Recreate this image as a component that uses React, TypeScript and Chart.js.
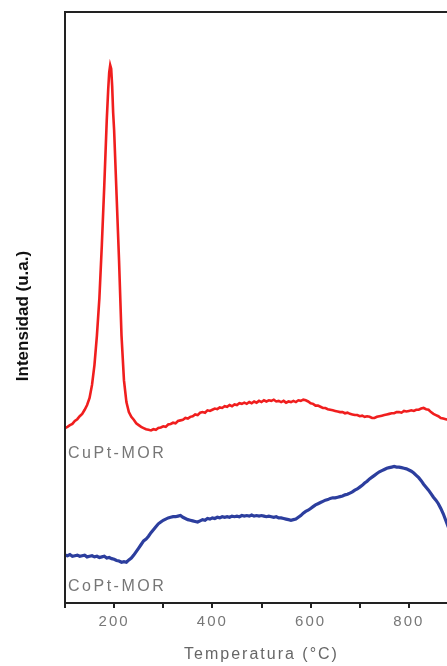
import React, { useEffect, useRef } from 'react';
import { Chart, registerables } from 'chart.js';

Chart.register(...registerables);

// ---- data ----
const seriesNames = ['CuPt-MOR', 'CoPt-MOR'];
const xTickLabels = [200, 400, 600, 800];

const tempCuPt = [
  100, 105, 110, 115, 120, 125, 130, 135, 140, 145, 150, 155, 160, 165, 170, 175, 180, 185, 188, 190,
  192, 194, 196, 198, 200, 205, 210, 215, 220, 225, 230, 235, 240, 245, 250, 255, 260, 265, 270, 275,
  280, 285, 290, 295, 300, 305, 310, 315, 320, 325, 330, 335, 340, 345, 350, 355, 360, 365, 370, 375,
  380, 385, 390, 395, 400, 405, 410, 415, 420, 425, 430, 435, 440, 445, 450, 455, 460, 465, 470, 475,
  480, 485, 490, 495, 500, 505, 510, 515, 520, 525, 530, 535, 540, 545, 550, 555, 560, 565, 570, 575,
  580, 585, 590, 595, 600, 605, 610, 615, 620, 625, 630, 635, 640, 645, 650, 655, 660, 665, 670, 675,
  680, 685, 690, 695, 700, 705, 710, 715, 720, 725, 730, 735, 740, 745, 750, 755, 760, 765, 770, 775,
  780, 785, 790, 795, 800, 805, 810, 815, 820, 825, 830, 835, 840, 845, 850, 855, 860, 865, 870, 875,
  880, 885, 890, 895, 900,
];
const intCuPt = [
  29.6, 29.8, 30.1, 30.3, 30.8, 31.1, 31.6, 32.0, 32.7, 33.5, 34.7, 36.9, 40.3, 45.3, 51.6, 60.6, 70.7, 81.7, 87.0, 89.8,
  91.0, 90.4, 87.5, 83.0, 80.0, 69.0, 58.0, 45.3, 37.7, 34.0, 32.3, 31.5, 31.0, 30.4, 30.1, 29.8, 29.6, 29.4, 29.3, 29.2,
  29.4, 29.3, 29.6, 29.7, 29.9, 29.8, 30.2, 30.3, 30.5, 30.4, 30.8, 30.9, 31.0, 31.3, 31.2, 31.5, 31.6, 31.9, 31.8, 32.2,
  32.3, 32.2, 32.6, 32.5, 32.7, 32.9, 32.8, 33.1, 33.0, 33.3, 33.2, 33.5, 33.3, 33.6, 33.5, 33.8, 33.7, 33.9, 33.7, 34.0,
  33.8, 34.1, 33.9, 34.2, 34.0, 34.3, 34.1, 34.3, 34.2, 34.4, 34.1, 34.2, 34.0, 34.2, 33.9, 34.1, 34.0, 34.2, 34.0, 34.3,
  34.2, 34.4, 34.3, 34.1, 33.8, 33.7, 33.4, 33.4, 33.2, 33.0, 33.0, 32.8, 32.7, 32.6, 32.5, 32.4, 32.3, 32.3, 32.1, 32.2,
  32.0, 31.9, 31.8, 31.8, 31.6, 31.7, 31.5, 31.6, 31.5, 31.3, 31.3, 31.5, 31.6, 31.7, 31.8, 31.9, 32.0, 32.1, 32.1, 32.3,
  32.3, 32.2, 32.5, 32.4, 32.5, 32.6, 32.5, 32.7, 32.7, 32.9, 33.0, 32.8, 32.7, 32.3, 32.0, 31.8, 31.6, 31.3, 31.2, 31.1,
  31.0, 30.8, 30.7, 30.6, 30.5,
];

const tempCoPt = [
  100, 105, 110, 115, 120, 125, 130, 135, 140, 145, 150, 155, 160, 165, 170, 175, 180, 185, 190, 195,
  200, 205, 210, 215, 220, 225, 230, 235, 240, 245, 250, 255, 260, 265, 270, 275, 280, 285, 290, 295,
  300, 305, 310, 315, 320, 325, 330, 335, 340, 345, 350, 355, 360, 365, 370, 375, 380, 385, 390, 395,
  400, 405, 410, 415, 420, 425, 430, 435, 440, 445, 450, 455, 460, 465, 470, 475, 480, 485, 490, 495,
  500, 505, 510, 515, 520, 525, 530, 535, 540, 545, 550, 555, 560, 565, 570, 575, 580, 585, 590, 595,
  600, 605, 610, 615, 620, 625, 630, 635, 640, 645, 650, 655, 660, 665, 670, 675, 680, 685, 690, 695,
  700, 705, 710, 715, 720, 725, 730, 735, 740, 745, 750, 755, 760, 765, 770, 775, 780, 785, 790, 795,
  800, 805, 810, 815, 820, 825, 830, 835, 840, 845, 850, 855, 860, 865, 870, 875, 880, 885, 890, 895,
  900,
];
const intCoPt = [
  8.1, 8.0, 8.2, 7.9, 8.0, 8.1, 7.9, 8.0, 8.1, 7.8, 7.9, 8.0, 7.8, 7.9, 7.7, 7.8, 7.9, 7.6, 7.7, 7.5,
  7.4, 7.2, 7.1, 6.9, 7.0, 6.9, 7.3, 7.6, 8.1, 8.7, 9.3, 9.9, 10.5, 10.8, 11.3, 11.9, 12.4, 12.9, 13.4, 13.7,
  14.0, 14.2, 14.4, 14.5, 14.6, 14.6, 14.7, 14.8, 14.5, 14.3, 14.1, 14.0, 13.9, 13.8, 13.7, 13.9, 14.1, 14.0, 14.3, 14.2,
  14.4, 14.3, 14.5, 14.4, 14.6, 14.5, 14.6, 14.5, 14.7, 14.6, 14.7, 14.6, 14.8, 14.7, 14.8, 14.7, 14.9, 14.7, 14.8, 14.7,
  14.8, 14.7, 14.6, 14.7, 14.6, 14.5, 14.6, 14.4, 14.4, 14.3, 14.2, 14.1, 14.0, 14.1, 14.2, 14.5, 14.8, 15.2, 15.5, 15.7,
  16.0, 16.3, 16.6, 16.8, 17.0, 17.2, 17.4, 17.5, 17.7, 17.8, 17.8, 17.9, 18.0, 18.1, 18.3, 18.4, 18.6, 18.8, 19.1, 19.3,
  19.6, 19.9, 20.3, 20.6, 21.0, 21.3, 21.6, 21.9, 22.2, 22.4, 22.6, 22.8, 22.9, 23.0, 23.1, 23.0, 23.0, 22.9, 22.8, 22.7,
  22.5, 22.3, 22.0, 21.6, 21.2, 20.7, 20.1, 19.6, 19.1, 18.5, 17.9, 17.4, 16.8, 16.0, 15.1, 14.0, 12.9, 11.8, 10.7, 9.6,
  8.6,
];

// where the series names sit (intensity units, at the left edge)
const nameLevels = [25.2, 2.7];

const FONT = '"Liberation Sans", Arial, sans-serif';

export default function App() {
  const canvasRef = useRef<HTMLCanvasElement | null>(null);

  useEffect(() => {
    if (!canvasRef.current) return;
    Chart.defaults.font.family = FONT;

    const spacingPlugin = {
      id: 'spacing',
      beforeDraw(chart: any) {
        (chart.ctx as any).letterSpacing = '2px';
      },
      afterDatasetsDraw(chart: any) {
        (chart.ctx as any).letterSpacing = '0px';
      },
      afterDraw(chart: any) {
        const ctx = chart.ctx;
        const ys = chart.scales.y;
        ctx.save();
        (ctx as any).letterSpacing = '2.5px';
        ctx.font = `16px ${FONT}`;
        ctx.fillStyle = '#767676';
        ctx.textBaseline = 'middle';
        ctx.textAlign = 'left';
        seriesNames.forEach((n, i) => {
          ctx.fillText(n, chart.chartArea.left + 3, ys.getPixelForValue(nameLevels[i]));
        });
        ctx.restore();
        (ctx as any).letterSpacing = '0px';
      },
    };

    const chart = new Chart(canvasRef.current, {
      type: 'line',
      data: {
        datasets: [
          {
            label: seriesNames[0],
            data: tempCuPt.map((x, i) => ({ x, y: intCuPt[i] })),
            borderColor: '#f01e1e',
            borderWidth: 2.6,
            pointRadius: 0,
            fill: false,
            tension: 0,
          },
          {
            label: seriesNames[1],
            data: tempCoPt.map((x, i) => ({ x, y: intCoPt[i] })),
            borderColor: '#2c3e9e',
            borderWidth: 3.2,
            pointRadius: 0,
            fill: false,
            tension: 0,
          },
        ],
      },
      options: {
        animation: false,
        responsive: false,
        maintainAspectRatio: false,
        layout: { padding: { left: 0, right: 12, top: 12, bottom: 0 } },
        plugins: {
          legend: { display: false },
          tooltip: { enabled: false },
        },
        scales: {
          x: {
            type: 'linear',
            position: 'bottom',
            min: 100,
            max: 900,
            ticks: {
              stepSize: 100,
              autoSkip: false,
              maxRotation: 0,
              padding: 5,
              color: '#777',
              font: { size: 15 },
              callback: (v: any) => (xTickLabels.includes(Number(v)) ? String(v) : ''),
            },
            grid: {
              display: true,
              drawOnChartArea: false,
              drawTicks: true,
              tickLength: 5,
              color: '#222',
              lineWidth: 2,
            },
            border: { display: true, color: '#222', width: 2 },
            title: {
              display: true,
              text: 'Temperatura (°C)',
              color: '#666',
              font: { size: 16 },
              padding: { top: 9.4, bottom: 1.4 },
            },
          },
          x2: {
            type: 'linear',
            position: 'top',
            min: 100,
            max: 900,
            ticks: { display: false },
            grid: { display: false, drawTicks: false },
            border: { display: true, color: '#222', width: 2 },
          },
          y: {
            type: 'linear',
            position: 'left',
            min: 0,
            max: 100,
            ticks: { display: false },
            grid: { display: false, drawTicks: false, z: 1 },
            border: { display: true, color: '#222', width: 2, z: 1 },
            title: {
              display: true,
              text: 'Intensidad (u.a.)\u2002\u2002',
              color: '#111',
              font: { size: 17, weight: 'bold' },
              padding: { top: 12.8, bottom: 31.8 },
            },
          },
          y2: {
            type: 'linear',
            position: 'right',
            min: 0,
            max: 100,
            ticks: { display: false },
            grid: { display: false, drawTicks: false },
            border: { display: true, color: '#222', width: 2 },
          },
        },
      } as any,
      plugins: [spacingPlugin],
    });

    return () => chart.destroy();
  }, []);

  return (
    <div
      style={{
        position: 'fixed',
        left: 0,
        top: 0,
        width: 447,
        height: 666,
        overflow: 'hidden',
        background: '#fff',
      }}
    >
      <canvas ref={canvasRef} width={470} height={666} style={{ display: 'block' }} />
    </div>
  );
}
